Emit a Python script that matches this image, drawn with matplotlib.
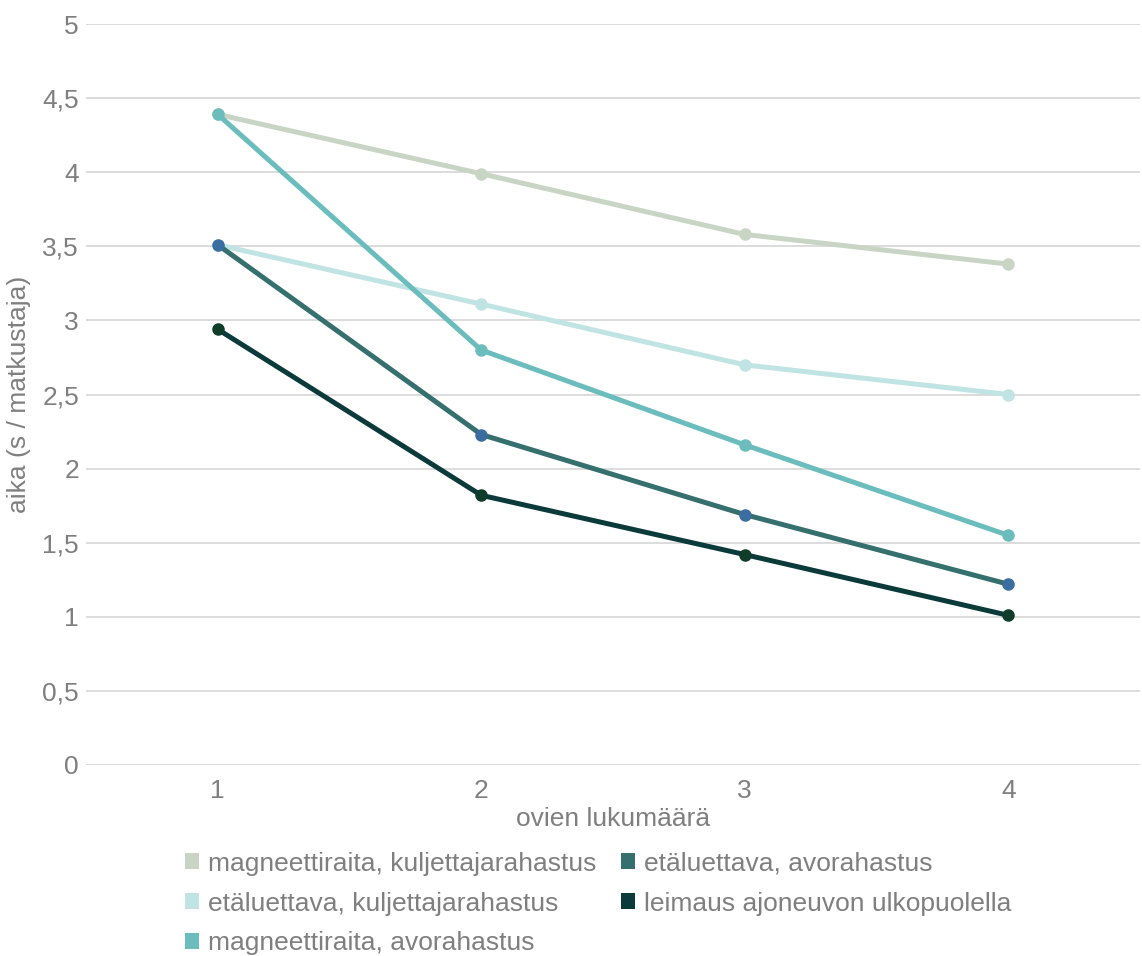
import matplotlib.pyplot as plt
from matplotlib.patches import Patch
from matplotlib.ticker import FuncFormatter

plt.rcParams['font.family'] = ['Liberation Sans', 'DejaVu Sans']

doors = [1, 2, 3, 4]
mag_kulj = [4.39, 3.99, 3.58, 3.38]
eta_kulj = [3.51, 3.11, 2.70, 2.50]
mag_avo = [4.39, 2.80, 2.16, 1.55]
eta_avo = [3.51, 2.23, 1.69, 1.22]
leimaus = [2.94, 1.82, 1.42, 1.01]

labels = [
    'magneettiraita, kuljettajarahastus',
    'etäluettava, kuljettajarahastus',
    'magneettiraita, avorahastus',
    'etäluettava, avorahastus',
    'leimaus ajoneuvon ulkopuolella',
]
series = [mag_kulj, eta_kulj, mag_avo, eta_avo, leimaus]
line_colors = ['#C8D5C5', '#C0E3E3', '#6BBDBD', '#35706F', '#0B3A3A']
marker_colors = ['#C8D5C5', '#C0E3E3', '#6BBDBD', '#3A6EA0', '#0F3D2A']

text_gray = '#7F7F7F'

fig = plt.figure(figsize=(11.42, 9.56), dpi=100)
ax = fig.add_axes([86 / 1142, 1 - 765 / 956, (1140 - 86) / 1142, (765 - 24) / 956])

for vals, lc, mc in zip(series, line_colors, marker_colors):
    ax.plot(doors, vals, color=lc, lw=3.6, marker='o', markersize=8,
            markerfacecolor=mc, markeredgecolor=mc, solid_capstyle='round')

ax.set_xlim(0.5, 4.5)
ax.set_ylim(0, 5)
ax.set_xticks(doors)
ax.set_yticks([0, 0.5, 1, 1.5, 2, 2.5, 3, 3.5, 4, 4.5, 5])
ax.yaxis.set_major_formatter(FuncFormatter(lambda v, p: f'{v:g}'.replace('.', ',')))
ax.grid(axis='y', color='#D9D9D9', lw=1.3)
ax.set_axisbelow(True)
for s in ax.spines.values():
    s.set_visible(False)
ax.tick_params(length=0, labelsize=19, colors=text_gray)
ax.tick_params(axis='x', pad=10)
ax.tick_params(axis='y', pad=5)

ax.set_xlabel('ovien lukumäärä', fontsize=19, color=text_gray, labelpad=3)
ax.set_ylabel('aika (s / matkustaja)', fontsize=19, color=text_gray, labelpad=8)

# legend: two columns of square swatches under the x label
handles = [Patch(facecolor=c, edgecolor='none') for c in line_colors]
fig.legend(handles, labels, ncol=2, loc='upper left',
           bbox_to_anchor=(161 / 1142, 1 - 828 / 956), frameon=False,
           fontsize=19, labelcolor=text_gray, handlelength=0.55,
           handleheight=0.55, handletextpad=0.35, columnspacing=0.9,
           labelspacing=0.6)

fig.savefig('out.png', dpi=100)
